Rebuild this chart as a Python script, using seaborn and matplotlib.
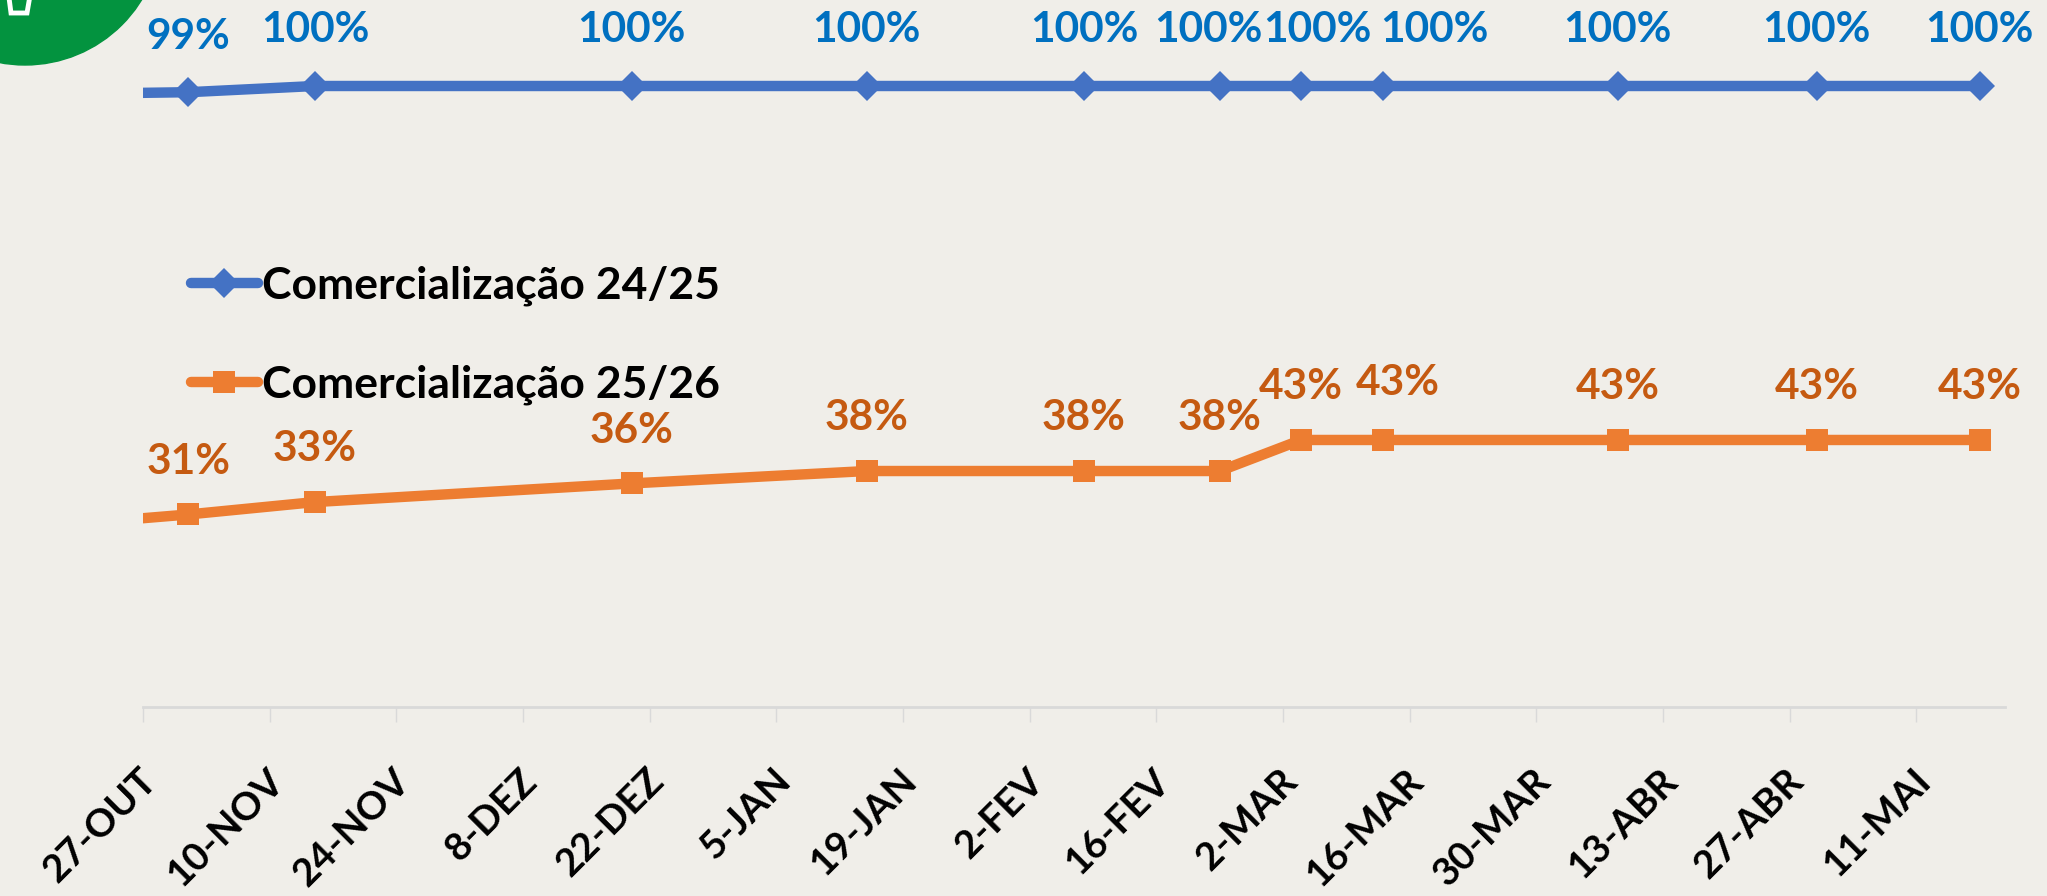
import pandas as pd
import seaborn as sns
import matplotlib.pyplot as plt
from matplotlib.lines import Line2D
from matplotlib.patches import Ellipse, Polygon
from matplotlib.transforms import ScaledTranslation

# data
dates = ["2024-10-27", "2024-11-01", "2024-11-15", "2024-12-20", "2025-01-15", "2025-02-08",
         "2025-02-23", "2025-03-04", "2025-03-13", "2025-04-08", "2025-04-30", "2025-05-18"]
sales_2425 = [98.9, 99, 100, 100, 100, 100, 100, 100, 100, 100, 100, 100]
sales_2526 = [30.4, 31, 33, 36, 38, 38, 38, 43, 43, 43, 43, 43]
series_names = ["Comercialização 24/25", "Comercialização 25/26"]

tick_dates = ["2024-10-27", "2024-11-10", "2024-11-24", "2024-12-08", "2024-12-22", "2025-01-05",
              "2025-01-19", "2025-02-02", "2025-02-16", "2025-03-02", "2025-03-16", "2025-03-30",
              "2025-04-13", "2025-04-27", "2025-05-11"]
tick_labels = ["27-OUT", "10-NOV", "24-NOV", "8-DEZ", "22-DEZ", "5-JAN", "19-JAN", "2-FEV",
               "16-FEV", "2-MAR", "16-MAR", "30-MAR", "13-ABR", "27-ABR", "11-MAI"]

# label nudges (points), as placed by hand in the original
blue_dx = [0, 0, 0, 0, 0, -8, 12, 37, 0, 0, 0]
orange_dx = [0, 0, 0, 0, 0, 0, 0, 11, 0, 0, 0]
orange_dy = [0, 0, 0, 0, 0, 0, 0, 3, 0, 0, 0]

BLUE_LINE, BLUE_TEXT = "#4472C4", "#0070C0"
ORANGE_LINE, ORANGE_TEXT = "#ED7D31", "#C55A11"
BG = "#F0EEE9"
FONT = ["Lato", "DejaVu Sans"]


def main():
    sns.set_theme(style="white")
    plt.rcParams["font.family"] = FONT
    plt.rcParams["font.weight"] = "bold"
    plt.rcParams["text.color"] = "black"

    W, H = 2047, 896
    fig = plt.figure(figsize=(W / 100, H / 100), dpi=100)
    fig.patch.set_facecolor(BG)

    # decorative logo fragment in the top-left corner
    fig.patches.append(Ellipse((25 / W, 1 + 72 / H), 274 / W, 274 / H,
                               transform=fig.transFigure, color="#03933F", zorder=0))
    fig.patches.append(Polygon([(8 / W, 1 + 10 / H), (11 / W, 1 - 13 / H), (27 / W, 1 - 13 / H),
                                (31 / W, 1 + 10 / H)], closed=False, fill=False,
                               edgecolor="white", lw=3.5, transform=fig.transFigure, zorder=1))

    ax = fig.add_axes([143 / W, 189 / H, (2005 - 143) / W, 707 / H])
    ax.set_facecolor("none")

    x = pd.to_datetime(dates)
    marks = list(range(1, len(dates)))

    sns.lineplot(x=x, y=sales_2425, ax=ax, color=BLUE_LINE, lw=7.5, marker="D", ms=15,
                 mew=0, markevery=marks, solid_joinstyle="round", legend=False)
    sns.lineplot(x=x, y=sales_2526, ax=ax, color=ORANGE_LINE, lw=7.5, marker="s", ms=16.5,
                 mew=0, markevery=marks, solid_joinstyle="round", legend=False)

    for i in marks:
        ax.annotate(f"{sales_2425[i]:.0f}%", (x[i], sales_2425[i]), xytext=(blue_dx[i - 1], 40),
                    textcoords="offset points", ha="center", va="center",
                    fontsize=30.5, fontweight="bold", color=BLUE_TEXT)
        ax.annotate(f"{sales_2526[i]:.0f}%", (x[i], sales_2526[i]),
                    xytext=(orange_dx[i - 1], 38 + orange_dy[i - 1]),
                    textcoords="offset points", ha="center", va="center",
                    fontsize=30.5, fontweight="bold", color=ORANGE_TEXT)

    start = pd.Timestamp(tick_dates[0])
    ax.set_xlim(start, start + pd.Timedelta(days=205.8))
    ax.set_ylim(0, 707 / 6.21)

    ax.set_xticks(pd.to_datetime(tick_dates))
    ax.set_xticklabels(tick_labels)
    ax.tick_params(axis="x", bottom=True, length=10.8, width=1, color="#D9D9D9",
                   pad=38, labelsize=28, labelcolor="black")
    shift = ScaledTranslation(8 / 100, 0, fig.dpi_scale_trans)
    for lab in ax.get_xticklabels():
        lab.set_rotation(45)
        lab.set_ha("right")
        lab.set_va("center")
        lab.set_rotation_mode("anchor")
        lab.set_fontweight("bold")
        lab.set_transform(lab.get_transform() + shift)
    ax.set_yticks([])
    ax.set_xlabel("")
    ax.set_ylabel("")
    for side in ["top", "left", "right"]:
        ax.spines[side].set_visible(False)
    ax.spines["bottom"].set_color("#D9D9D9")
    ax.spines["bottom"].set_linewidth(2)

    handles = [
        Line2D([], [], color=BLUE_LINE, lw=7.5, marker="D", ms=15, mew=0),
        Line2D([], [], color=ORANGE_LINE, lw=7.5, marker="s", ms=16.5, mew=0),
    ]
    ax.legend(handles, series_names, loc="upper left",
              bbox_to_anchor=(191 / W, 1 - 266 / H), bbox_transform=fig.transFigure,
              frameon=False, borderpad=0, borderaxespad=0, handlelength=1.5,
              handletextpad=0.1, labelspacing=1.3, labelcolor="black",
              prop={"family": FONT, "weight": "bold", "size": 32})

    fig.savefig("out.png", dpi=100, facecolor=fig.get_facecolor())
    plt.close(fig)


if __name__ == "__main__":
    main()
